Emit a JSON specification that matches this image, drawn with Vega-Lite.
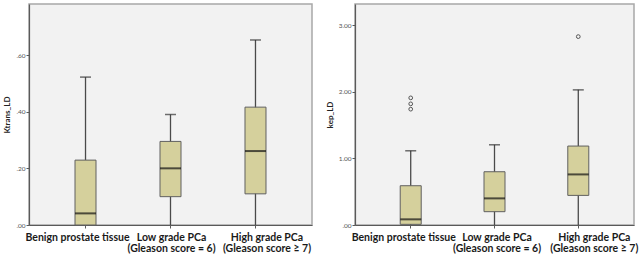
{
  "$schema": "https://vega.github.io/schema/vega-lite/v6.json",
  "padding": {"left": 3, "top": 3, "right": 0, "bottom": 0},
  "bounds": "flush",
  "spacing": 43,
  "datasets": {
    "ktrans": [
      {"group": "Benign prostate tissue", "lo": 0, "q1": 0, "med": 0.041, "q3": 0.229, "hi": 0.522},
      {"group": "Low grade PCa|(Gleason score = 6)", "lo": 0, "q1": 0.10, "med": 0.20, "q3": 0.295, "hi": 0.39},
      {"group": "High grade PCa|(Gleason score ≥ 7)", "lo": 0, "q1": 0.110, "med": 0.261, "q3": 0.416, "hi": 0.653}
    ],
    "kep": [
      {"group": "Benign prostate tissue", "lo": 0, "q1": 0.01, "med": 0.085, "q3": 0.59, "hi": 1.115},
      {"group": "Low grade PCa|(Gleason score = 6)", "lo": 0, "q1": 0.20, "med": 0.40, "q3": 0.80, "hi": 1.205},
      {"group": "High grade PCa|(Gleason score ≥ 7)", "lo": 0, "q1": 0.445, "med": 0.76, "q3": 1.186, "hi": 2.03}
    ],
    "kep_out": [
      {"group": "Benign prostate tissue", "value": 1.91},
      {"group": "Benign prostate tissue", "value": 1.82},
      {"group": "Benign prostate tissue", "value": 1.74},
      {"group": "High grade PCa|(Gleason score ≥ 7)", "value": 2.83}
    ]
  },
  "config": {
    "view": {"fill": "#f2f2f2", "stroke": "#a8a8a8", "strokeWidth": 1.5},
    "axis": {
      "grid": false,
      "domainColor": "#5a5a5a",
      "domainWidth": 1.2,
      "tickColor": "#5a5a5a",
      "tickSize": 3,
      "labelFont": "Lato",
      "titleFont": "Lato"
    },
    "axisY": {
      "labelFontSize": 6.5,
      "labelColor": "#555555",
      "labelPadding": 1,
      "titleFontSize": 8,
      "titleFontWeight": "bold",
      "titleColor": "#222222",
      "titlePadding": 4
    },
    "axisX": {
      "labelFontSize": 10.5,
      "labelFontWeight": "bold",
      "labelColor": "#1a1a1a",
      "labelLineHeight": 11.5,
      "labelPadding": 4,
      "labelAngle": 0,
      "labelOverlap": false,
      "title": null
    }
  },
  "hconcat": [
    {
      "width": 283,
      "height": 221,
      "data": {"name": "ktrans"},
      "layer": [
        {
          "mark": {"type": "rule", "color": "#4a4a4a", "strokeWidth": 1.3},
          "encoding": {
            "x": {"field": "group", "type": "nominal", "sort": null, "scale": {"domain": ["Benign prostate tissue", "Low grade PCa|(Gleason score = 6)", "High grade PCa|(Gleason score ≥ 7)"], "paddingInner": 0, "paddingOuter": 0.165}, "axis": {"labelExpr": "split(datum.label, '|')", "labelOffset": {"expr": "datum.value == 'Benign prostate tissue' ? -8 : (indexof(datum.value, 'High') == 0 ? 11.5 : 1)"}}},
            "y": {"field": "lo", "type": "quantitative", "title": "Ktrans_LD", "scale": {"domain": [0, 0.78], "nice": false}, "axis": {"values": [0, 0.2, 0.4, 0.6], "labelExpr": "replace(format(datum.value, '.2f'), '0.', '.')"}},
            "y2": {"field": "hi"}
          }
        },
        {
          "mark": {"type": "tick", "color": "#333333", "size": 11, "thickness": 1.5},
          "encoding": {
            "x": {"field": "group", "type": "nominal", "sort": null},
            "y": {"field": "hi", "type": "quantitative", "title": "Ktrans_LD"}
          }
        },
        {
          "mark": {"type": "bar", "size": 21, "fill": "#d5d09c", "stroke": "#606060", "strokeWidth": 1},
          "encoding": {
            "x": {"field": "group", "type": "nominal", "sort": null},
            "y": {"field": "q1", "type": "quantitative", "title": "Ktrans_LD"},
            "y2": {"field": "q3"}
          }
        },
        {
          "mark": {"type": "tick", "color": "#111111", "size": 21, "thickness": 2},
          "encoding": {
            "x": {"field": "group", "type": "nominal", "sort": null},
            "y": {"field": "med", "type": "quantitative", "title": "Ktrans_LD"}
          }
        }
      ]
    },
    {
      "width": 279,
      "height": 221,
      "layer": [
        {
          "data": {"name": "kep"},
          "mark": {"type": "rule", "color": "#4a4a4a", "strokeWidth": 1.3},
          "encoding": {
            "x": {"field": "group", "type": "nominal", "sort": null, "scale": {"domain": ["Benign prostate tissue", "Low grade PCa|(Gleason score = 6)", "High grade PCa|(Gleason score ≥ 7)"], "paddingInner": 0, "paddingOuter": 0.165}, "axis": {"labelExpr": "split(datum.label, '|')", "labelOffset": {"expr": "datum.value == 'Benign prostate tissue' ? -7 : (indexof(datum.value, 'High') == 0 ? 16 : 2.5)"}}},
            "y": {"field": "lo", "type": "quantitative", "title": "kep_LD", "scale": {"domain": [0, 3.32], "nice": false}, "axis": {"values": [0, 1, 2, 3], "labelExpr": "replace(format(datum.value, '.2f'), '0.', '.')"}},
            "y2": {"field": "hi"}
          }
        },
        {
          "data": {"name": "kep"},
          "mark": {"type": "tick", "color": "#333333", "size": 11, "thickness": 1.5},
          "encoding": {
            "x": {"field": "group", "type": "nominal", "sort": null},
            "y": {"field": "hi", "type": "quantitative", "title": "kep_LD"}
          }
        },
        {
          "data": {"name": "kep"},
          "mark": {"type": "bar", "size": 21, "fill": "#d5d09c", "stroke": "#606060", "strokeWidth": 1},
          "encoding": {
            "x": {"field": "group", "type": "nominal", "sort": null},
            "y": {"field": "q1", "type": "quantitative", "title": "kep_LD"},
            "y2": {"field": "q3"}
          }
        },
        {
          "data": {"name": "kep"},
          "mark": {"type": "tick", "color": "#111111", "size": 21, "thickness": 2},
          "encoding": {
            "x": {"field": "group", "type": "nominal", "sort": null},
            "y": {"field": "med", "type": "quantitative", "title": "kep_LD"}
          }
        },
        {
          "data": {"name": "kep_out"},
          "mark": {"type": "point", "shape": "circle", "filled": false, "size": 14, "stroke": "#555555", "strokeWidth": 1, "opacity": 1},
          "encoding": {
            "x": {"field": "group", "type": "nominal", "sort": null},
            "y": {"field": "value", "type": "quantitative", "title": "kep_LD"}
          }
        }
      ]
    }
  ]
}
